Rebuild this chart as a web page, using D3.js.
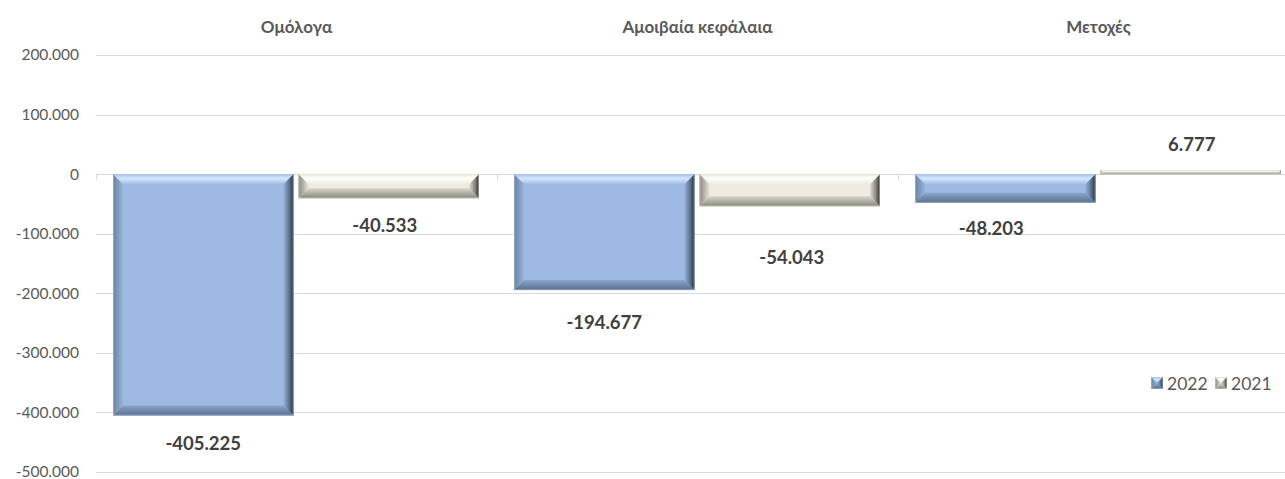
<!DOCTYPE html>
<html><head><meta charset="utf-8">
<script src="https://cdn.jsdelivr.net/npm/d3@7"></script>
<style>
html,body{margin:0;padding:0;background:#fff;overflow:hidden}
svg{display:block;font-family:Lato,"Open Sans","Noto Sans",sans-serif}
</style></head><body>
<svg id="chart" width="1285" height="479"></svg>
<script>
const categories = ["Ομόλογα", "Αμοιβαία κεφάλαια", "Μετοχές"];
const seriesNames = ["2022", "2021"];
const values2022 = [-405225, -194677, -48203];
const values2021 = [-40533, -54043, 6777];
const yTicks = [200000, 100000, 0, -100000, -200000, -300000, -400000, -500000];

const fmt = v => { const s = d3.format(",")(v).replace(/,/g, "."); return s.replace("−","-"); };

const svg = d3.select("#chart");
const W = 1285, H = 479;
const plotL = 96, plotR = 1299, plotT = 55, plotB = 472;

const x0 = d3.scaleBand().domain(categories).range([plotL, plotR]).padding(0);
const x1 = d3.scaleBand().domain(seriesNames).range([17, x0.bandwidth() - 18]).paddingInner(0.027);
const y = d3.scaleLinear().domain([-500000, 200000]).range([plotB, plotT]);

const defs = svg.append("defs");
defs.append("clipPath").attr("id","clipW").append("rect").attr("x",0).attr("y",0).attr("width",W).attr("height",H);

function lg(id, x1_, y1_, x2_, y2_, stops){
  const g = defs.append("linearGradient").attr("id", id)
    .attr("x1", x1_).attr("y1", y1_).attr("x2", x2_).attr("y2", y2_);
  stops.forEach(s => g.append("stop").attr("offset", s[0]).attr("stop-color", s[1]));
}
const pal = {
  "2022": {base:"#9dbae2",
    top:[["0","#a9c4ea"],["0.45","#d3e7ff"],["1","#a3bfe6"]],
    left:[["0","#6a82a3"],["1","#98b4dc"]],
    right:[["0","#97b2d8"],["0.6","#5a6f8c"],["1","#222c39"]],
    bottom:[["0","#8aa4c9"],["1","#5b6f8c"]],
    edge:"#b4c7e0"},
  "2021": {base:"#eeece1",
    top:[["0","#f1efe6"],["0.45","#fefdf8"],["1","#eeece1"]],
    left:[["0","#8b8980"],["1","#e6e4d9"]],
    right:[["0","#e3e1d6"],["0.6","#87857b"],["1","#32312c"]],
    bottom:[["0","#d8d6cb"],["1","#88877d"]],
    edge:"#d6d4cb"}
};
seriesNames.forEach(s => {
  const p = pal[s];
  lg("top"+s, 0,0,0,1, p.top);
  lg("left"+s, 0,0,1,0, p.left);
  lg("right"+s, 0,0,1,0, p.right);
  lg("bottom"+s, 0,0,0,1, p.bottom);
});

// gridlines
svg.append("g").selectAll("line").data(yTicks).join("line")
  .attr("x1", plotL).attr("x2", W).attr("y1", d => Math.round(y(d))+0.5).attr("y2", d => Math.round(y(d))+0.5)
  .attr("stroke", "#d9d9d9").attr("stroke-width", 1);

// y axis labels
const yAxis = d3.axisLeft(y).tickValues(yTicks).tickFormat(fmt).tickSize(0).tickPadding(17);
const yg = svg.append("g").attr("transform", `translate(${plotL},0)`).call(yAxis);
yg.select(".domain").remove();
yg.selectAll("text").attr("fill", "#595959").attr("font-size", 15.5).attr("font-family","Lato,'Open Sans',sans-serif");

// category ticks on zero line
const catEdges = categories.map(c => x0(c));
svg.append("g").selectAll("line").data(catEdges).join("line")
  .attr("x1", d => Math.round(d)+0.5).attr("x2", d => Math.round(d)+0.5)
  .attr("y1", Math.round(y(0))).attr("y2", Math.round(y(0))+6)
  .attr("stroke", "#d9d9d9");

// category titles
svg.append("g").selectAll("text").data(categories).join("text")
  .attr("x", d => x0(d) + x0.bandwidth()/2).attr("y", 33)
  .attr("text-anchor", "middle").attr("font-weight", "bold").attr("font-size", 17)
  .attr("fill", "#595959").text(d => d);

// data
const data = [];
categories.forEach((c, i) => {
  data.push({cat: c, s: "2022", v: values2022[i]});
  data.push({cat: c, s: "2021", v: values2021[i]});
});

const barsG = svg.append("g").attr("clip-path","url(#clipW)");
function bevelBar(g, x, yTop, w, h, s){
  const p = pal[s];
  const b = Math.min(10, h/2, w/2);
  g.append("rect").attr("x", x).attr("y", yTop).attr("width", w).attr("height", h).attr("fill", p.base);
  const X0 = x, X1 = x + w, Y0 = yTop, Y1 = yTop + h;
  const poly = (pts, fill) => g.append("polygon").attr("points", pts.map(q => q.join(",")).join(" ")).attr("fill", fill);
  poly([[X0,Y0],[X1,Y0],[X1-b,Y0+b],[X0+b,Y0+b]], `url(#top${s})`);
  poly([[X0,Y1],[X1,Y1],[X1-b,Y1-b],[X0+b,Y1-b]], `url(#bottom${s})`);
  poly([[X0,Y0],[X0+b,Y0+b],[X0+b,Y1-b],[X0,Y1]], `url(#left${s})`);
  poly([[X1,Y0],[X1-b,Y0+b],[X1-b,Y1-b],[X1,Y1]], `url(#right${s})`);
  g.append("rect").attr("x", x+0.5).attr("y", yTop+0.5).attr("width", Math.max(0,w-1)).attr("height", Math.max(0,h-1))
    .attr("fill", "none").attr("stroke", p.edge).attr("stroke-opacity", 0.5).attr("stroke-width", 1);
}
data.forEach(d => {
  const x = x0(d.cat) + x1(d.s);
  const w = x1.bandwidth();
  const yA = y(Math.max(0, d.v)), yB = y(Math.min(0, d.v));
  bevelBar(barsG.append("g"), x, yA, w, yB - yA, d.s);
});

// data labels (manual offsets as in reference)
const labelDx = {"Ομόλογα2022":0,"Ομόλογα2021":-4,"Αμοιβαία κεφάλαια2022":0,"Αμοιβαία κεφάλαια2021":2,"Μετοχές2022":-14,"Μετοχές2021":1};
const labelDy = {"Ομόλογα2022":34,"Ομόλογα2021":34,"Αμοιβαία κεφάλαια2022":39,"Αμοιβαία κεφάλαια2021":58,"Μετοχές2022":32,"Μετοχές2021":-19};
svg.append("g").selectAll("text").data(data).join("text")
  .attr("x", d => x0(d.cat) + x1(d.s) + x1.bandwidth()/2 + labelDx[d.cat+d.s])
  .attr("y", d => y(d.v) + labelDy[d.cat+d.s])
  .attr("text-anchor", "middle").attr("font-weight", "bold").attr("font-size", 18.5)
  .attr("fill", "#404040").text(d => fmt(d.v));

// legend
const legendX = [1151, 1215];
const lgG = svg.append("g");
seriesNames.forEach((s, i) => {
  const g = lgG.append("g");
  bevelBar(g, legendX[i], 377, 12, 12, s);
  g.append("text").attr("x", legendX[i] + 16).attr("y", 389.5).attr("font-size", 17.5)
    .attr("fill", "#595959").text(s);
});
</script>
</body></html>
